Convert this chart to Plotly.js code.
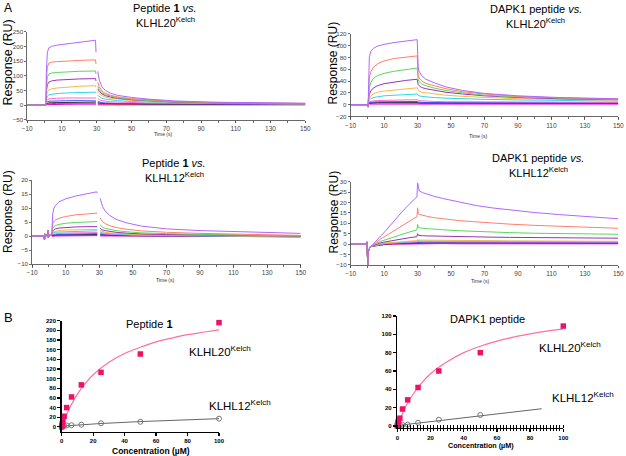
<!DOCTYPE html>
<html>
<head>
<meta charset="utf-8">
<script src="https://cdn.plot.ly/plotly-3.0.1.min.js"></script>
<style>
  html, body { margin: 0; padding: 0; background: #fff; }
  #chart { width: 626px; height: 456px; }
</style>
</head>
<body>
<div id="chart"></div>
<script>
// Injection series (µM), highest first; one sensorgram trace per concentration
const concSeries = [100, 50, 25, 12.5, 6.25, 3.125, 1.56, 0.78, 0.39, 0.195, 0];
const seriesColors = ['#b266ff', '#ff7f6b', '#5cd65c', '#9933b3', '#f2b84b', '#33d6e0',
                      '#ff66e0', '#3d4dff', '#333333', '#ff3333', '#e600e6'];

// ---- Peptide 1 vs. KLHL20 Kelch: pre-injection, association, dissociation ----
const k1PreT = [-10, 0.9];
const k1PreY = [0, 0];
const k1AssocT = [1.0, 1.6, 2.5, 4, 7, 12, 20, 29.3, 29.6];
const k1Assoc = [
  [110, 180, 195, 200, 204, 208, 214, 221, 180],
  [80, 130, 143, 146, 148, 150, 152, 154, 140],
  [58, 95, 106, 109, 111, 113, 115, 116, 106],
  [45, 70, 78, 82, 85, 87, 89, 90, 82],
  [30, 45, 51, 55, 58, 61, 64, 66, 60],
  [20, 30, 35, 37, 39, 41, 43, 44, 40],
  [12, 18, 21, 22, 23, 24, 25, 26, 24],
  [7, 11, 13, 13.5, 14, 14.5, 15, 15.5, 14],
  [4, 6, 7.5, 8, 8.5, 9, 9.5, 10, 9],
  [2, 3.5, 4.5, 5, 5.5, 6, 6, 6.5, 6],
  [1, 1.5, 2, 2, 2.5, 2.5, 3, 3, 3]
];
const k1DissT = [30.6, 31.5, 33, 35, 38, 42, 50, 60, 75, 95, 120, 150];
const k1Diss = [
  [115, 85, 62, 50, 40, 33, 26, 20, 14, 10, 8, 6],
  [78, 62, 48, 40, 33, 28, 22, 17, 12, 9, 7, 5.5],
  [64, 53, 42, 36, 30, 25, 20, 15, 11, 8, 6.5, 5],
  [55, 46, 38, 32, 27, 23, 18, 14, 10, 7.5, 6, 4.5],
  [45, 38, 32, 27, 23, 20, 16, 12, 9, 7, 5.5, 4],
  [33, 28, 23, 20, 17, 15, 12, 10, 8, 6, 5, 4],
  [22, 18, 15, 13, 11, 10, 8, 7, 6, 5, 4, 3],
  [12, 10, 8, 7, 6, 5.5, 5, 4.5, 4, 3.5, 3, 3],
  [8, 6.5, 5.5, 5, 4.5, 4, 4, 3.5, 3, 3, 2.5, 2.5],
  [5, 4, 3.5, 3, 3, 3, 2.5, 2.5, 2, 2, 2, 2],
  [1, 0.5, 0.5, 0.5, 0.5, 0.5, 0.5, 0.5, 0.5, 0.5, 0.5, 0.5]
];

// ---- DAPK1 peptide vs. KLHL20 Kelch ----
const k2PreT = [-10, 0.3, 0.45];
const k2PreY = [0, 0, -4];
const k2AssocT = [0.6, 1.2, 2, 3.5, 6, 10, 16, 23, 29.8];
const k2Assoc = [
  [30, 80, 90, 95, 99, 102, 105, 107.5, 110],
  [18, 45, 55, 63, 69, 74, 78, 80.5, 82.5],
  [12, 28, 37, 44, 49, 53, 56.5, 59.5, 62],
  [8, 17, 23, 28, 32, 35.5, 38.5, 41, 43],
  [5, 10, 14, 18, 21, 23, 25, 27, 28.5],
  [4, 8, 10, 12, 13.5, 15, 16, 17, 18],
  [3, 5, 6, 6.5, 7, 7.5, 7.8, 8, 8.3],
  [2, 3.5, 4, 4.5, 4.8, 5, 5, 5.2, 5.3],
  [1.5, 2.5, 3, 3.3, 3.5, 3.7, 3.8, 4, 4],
  [1, 2, 2.3, 2.5, 2.7, 2.8, 3, 3, 3],
  [0.5, 1, 1, 1, 1, 1.2, 1.2, 1.3, 1.3]
];
const k2DissT = [30.4, 31, 32.5, 35, 40, 47, 57, 70, 90, 115, 150];
const k2Diss = [
  [63, 56, 49, 43, 37, 30, 24, 19, 15, 12, 10],
  [50, 45, 40, 36, 32, 27, 22, 18, 14, 11.5, 9.5],
  [42, 39, 35, 32, 28, 24, 20, 16, 13, 11, 9],
  [34, 32, 29, 27, 24, 21, 18, 15, 12, 10, 8.5],
  [25, 23, 21, 20, 18, 16, 14, 12, 10, 9, 7.5],
  [16, 15, 14, 13, 12, 11, 10, 9, 8, 7, 6],
  [7.5, 7, 6.5, 6, 5.5, 5, 5, 4.5, 4.5, 4, 4],
  [4.5, 4, 4, 3.5, 3.5, 3.5, 3, 3, 3, 3, 3],
  [3.5, 3, 3, 3, 3, 3, 2.5, 2.5, 2.5, 2.5, 2.5],
  [2.5, 2, 2, 2, 2, 2, 2, 2, 2, 2, 2],
  [1, 1, 1, 1, 1, 1, 1, 1, 1, 1, 1]
];

// ---- Peptide 1 vs. KLHL12 Kelch ----
const k3PreT = [-10, -3, -2.6, -2.3, -1, -0.6, -0.3, 0.5, 1.7];
const k3PreY = [0, 0, -1.3, 0.8, 0, 2.2, -0.5, 0.4, 0.4];
const k3AssocT = [1.8, 2.3, 3, 4, 6, 10, 16, 22, 28.5, 28.8];
const k3Assoc = [
  [4.5, 8, 10, 11, 12.2, 13.3, 14.3, 15, 15.8, 15.3],
  [2.5, 4.5, 5.3, 5.8, 6.4, 7, 7.6, 8, 8.4, 8.2],
  [1.5, 2.8, 3.4, 3.8, 4.2, 4.6, 4.9, 5.1, 5.3, 5.2],
  [1, 1.8, 2.3, 2.6, 2.9, 3.1, 3.3, 3.4, 3.5, 3.4],
  [0.8, 1.3, 1.6, 1.8, 2, 2.2, 2.3, 2.4, 2.5, 2.4],
  [0.6, 1, 1.2, 1.4, 1.5, 1.6, 1.7, 1.8, 1.9, 1.8],
  [0.4, 0.7, 0.8, 0.9, 1, 1.1, 1.2, 1.3, 1.3, 1.3],
  [0.3, 0.5, 0.6, 0.6, 0.7, 0.7, 0.8, 0.8, 0.9, 0.9],
  [0.2, 0.3, 0.4, 0.4, 0.5, 0.5, 0.5, 0.6, 0.6, 0.6],
  [0.1, 0.2, 0.2, 0.3, 0.3, 0.3, 0.3, 0.4, 0.4, 0.4],
  [0, 0, 0.1, 0.1, 0.1, 0.1, 0.1, 0.2, 0.2, 0.2]
];
const k3DissT = [30.5, 31.2, 32, 33.5, 36, 40, 46, 55, 70, 90, 115, 150];
const k3Diss = [
  [13.5, 12, 10.5, 9, 7.5, 6, 4.8, 3.6, 2.6, 2, 1.5, 1],
  [6.5, 5.8, 5.2, 4.5, 3.8, 3.1, 2.5, 1.9, 1.4, 1, 0.7, 0.3],
  [4, 3.6, 3.2, 2.8, 2.4, 2, 1.6, 1.2, 0.9, 0.6, 0.4, 0.1],
  [2.8, 2.5, 2.2, 2, 1.7, 1.4, 1.1, 0.8, 0.6, 0.4, 0.2, 0],
  [2, 1.8, 1.6, 1.4, 1.2, 1, 0.8, 0.6, 0.4, 0.3, 0.1, -0.1],
  [1.5, 1.3, 1.2, 1, 0.9, 0.7, 0.6, 0.4, 0.3, 0.2, 0, -0.2],
  [1.1, 1, 0.9, 0.8, 0.7, 0.6, 0.5, 0.3, 0.2, 0.1, 0, -0.2],
  [0.8, 0.7, 0.6, 0.6, 0.5, 0.4, 0.3, 0.2, 0.1, 0.1, 0, -0.1],
  [0.5, 0.5, 0.4, 0.4, 0.3, 0.3, 0.2, 0.2, 0.1, 0, 0, -0.1],
  [0.4, 0.3, 0.3, 0.3, 0.2, 0.2, 0.2, 0.1, 0.1, 0, -0.1, -0.3],
  [0.1, 0.1, 0.1, 0.1, 0.1, 0, 0, 0, 0, 0, 0, 0]
];

// ---- DAPK1 peptide vs. KLHL12 Kelch ----
const k4PreT = [-10, -0.6, -0.3, 0.2, 0.5, 1.0];
const k4PreY = [0, 0, 1, -10, -4, -2];
const k4AssocT = [1.5, 3, 5.5, 8, 10.5, 15.5, 20.5, 25.5, 29.6, 30];
const k4Assoc = [
  [-1.5, -0.5, 1.9, 4, 6, 10.8, 15.4, 19.6, 22.8, 29.5],
  [-1.5, -0.7, 1.1, 2.5, 3.7, 6.2, 8.7, 11, 13.2, 17.5],
  [-1.5, -0.8, 0.5, 1.3, 2, 3.4, 4.7, 5.9, 6.8, 9.5],
  [-1.5, -0.9, 0, 0.6, 1, 1.8, 2.5, 3.1, 3.5, 5],
  [-1.5, -1, -0.3, 0.2, 0.5, 0.9, 1.2, 1.4, 1.6, 2.2],
  [-1.5, -1, -0.4, 0, 0.3, 0.6, 0.9, 1.1, 1.3, 1.8],
  [-1.5, -1, -0.5, -0.1, 0.2, 0.5, 0.7, 0.9, 1, 1.4],
  [-1.5, -1, -0.5, -0.2, 0.1, 0.3, 0.5, 0.6, 0.7, 1],
  [-1.5, -1, -0.6, -0.3, 0, 0.2, 0.3, 0.4, 0.5, 0.7],
  [-1.5, -1.1, -0.7, -0.4, -0.1, 0.1, 0.2, 0.3, 0.3, 0.5],
  [-1.5, -1.1, -0.8, -0.5, -0.3, -0.1, 0, 0.1, 0.1, 0.2]
];
const k4DissT = [30.5, 31, 33, 36, 40, 45, 55, 65, 75, 85, 100, 115, 130, 150];
const k4Diss = [
  [26, 25.6, 24.8, 24, 23, 22, 20.2, 18.6, 17.4, 16.4, 15.2, 14.2, 13.3, 12.2],
  [14.5, 14.3, 13.8, 13.3, 12.7, 12.2, 11.3, 10.7, 10.1, 9.6, 9, 8.5, 8.1, 7.6],
  [7.9, 7.8, 7.6, 7.4, 7.1, 6.9, 6.4, 6, 5.7, 5.5, 5.2, 5, 4.8, 4.7],
  [4.2, 4.1, 4, 3.9, 3.8, 3.7, 3.5, 3.4, 3.3, 3.2, 3.1, 3, 2.9, 2.8],
  [1.9, 1.9, 1.8, 1.8, 1.8, 1.7, 1.7, 1.6, 1.6, 1.5, 1.5, 1.4, 1.4, 1.3],
  [1.5, 1.5, 1.4, 1.4, 1.4, 1.3, 1.3, 1.3, 1.2, 1.2, 1.2, 1.1, 1.1, 1.1],
  [1.2, 1.2, 1.1, 1.1, 1.1, 1.1, 1, 1, 1, 1, 0.9, 0.9, 0.9, 0.9],
  [0.9, 0.9, 0.9, 0.9, 0.8, 0.8, 0.8, 0.8, 0.8, 0.7, 0.7, 0.7, 0.7, 0.7],
  [0.6, 0.6, 0.6, 0.6, 0.6, 0.6, 0.6, 0.5, 0.5, 0.5, 0.5, 0.5, 0.5, 0.5],
  [0.4, 0.4, 0.4, 0.4, 0.4, 0.4, 0.4, 0.3, 0.3, 0.3, 0.3, 0.3, 0.3, 0.3],
  [0.2, 0.2, 0.2, 0.2, 0.2, 0.2, 0.1, 0.1, 0.1, 0.1, 0.1, 0.1, 0.1, 0.1]
];

// ---- Steady-state binding (B) ----
const concUM = [0, 0.195, 0.39, 0.78, 1.56, 3.125, 6.25, 12.5, 25, 50, 100];
const pep1K20 = [0, 3, 7, 12, 22, 40, 62, 87, 113, 151, 216];
const pep1K12 = [0, 0.5, 1, 1.5, 2, 3, 3.5, 4.5, 7.5, 10.5, 17];
const pep1K20FitX = [0, 1, 2.5, 5, 10, 15, 20, 30, 40, 50, 60, 70, 80, 90, 100];
const pep1K20FitY = [0, 9, 21, 39, 68, 90, 108, 134, 152, 165, 176, 184, 191, 196, 201];
const pep1K12FitX = [0, 10, 25, 50, 75, 100];
const pep1K12FitY = [1.5, 4, 7, 11, 14.3, 17];

const dapkK20 = [0, 2, 4, 6, 8.5, 18.5, 28.5, 42, 60, 80, 109];
const dapkK12 = [0, 0.3, 0.5, 0.8, 1, 1.2, 1.5, 3.5, 6.8, 12];
const dapkK20FitX = [0, 1, 2.5, 5, 10, 15, 20, 30, 40, 50, 60, 70, 80, 90, 100];
const dapkK20FitY = [0, 4.7, 11, 21, 36, 47.5, 57, 70, 80, 87, 92.5, 97, 100.5, 103.5, 106];
const dapkK12FitX = [0, 87];
const dapkK12FitY = [0.5, 18.8];

// ---- layout helpers: pixel positions -> paper fractions ----
const W = 626, H = 456;
const FONT = 'Liberation Sans, Arial, sans-serif';
const px = v => v / W;
const py = v => 1 - v / H;
const xDom = (a, b) => [px(a), px(b)];
const yDom = (top, bottom) => [py(bottom), py(top)];

function sensorgram(preT, preY, assocT, assoc, dissT, diss, gap, xa, ya) {
  const out = [];
  for (let i = assoc.length - 1; i >= 0; i--) {
    const x = preT.concat(assocT, gap ? [30] : [], dissT);
    const y = preY.concat(assoc[i], gap ? [null] : [], diss[i]);
    out.push({
      type: 'scatter', mode: 'lines', x: x, y: y, xaxis: xa, yaxis: ya,
      name: concSeries[i] + ' µM', connectgaps: false,
      line: { color: seriesColors[i], width: 1 }, hoverinfo: 'skip'
    });
  }
  return out;
}

const traces = [].concat(
  sensorgram(k1PreT, k1PreY, k1AssocT, k1Assoc, k1DissT, k1Diss, true, 'x', 'y'),
  sensorgram(k2PreT, k2PreY, k2AssocT, k2Assoc, k2DissT, k2Diss, false, 'x2', 'y2'),
  sensorgram(k3PreT, k3PreY, k3AssocT, k3Assoc, k3DissT, k3Diss, true, 'x3', 'y3'),
  sensorgram(k4PreT, k4PreY, k4AssocT, k4Assoc, k4DissT, k4Diss, false, 'x4', 'y4')
);

const pink = '#ee1166', pinkFit = '#ff6fa3', grey = '#777777';
function steady(xa, ya, k20, k12, f20x, f20y, f12x, f12y) {
  return [
    { type: 'scatter', mode: 'lines', x: f12x, y: f12y, xaxis: xa, yaxis: ya,
      line: { color: '#666', width: 1 }, hoverinfo: 'skip' },
    { type: 'scatter', mode: 'markers', x: concUM.slice(0, k12.length), y: k12, xaxis: xa, yaxis: ya,
      marker: { symbol: 'circle-open', size: 5, color: grey, line: { width: 1, color: grey } },
      cliponaxis: false, hoverinfo: 'skip' },
    { type: 'scatter', mode: 'lines', x: f20x, y: f20y, xaxis: xa, yaxis: ya,
      line: { color: pinkFit, width: 1.2, shape: 'spline' }, hoverinfo: 'skip' },
    { type: 'scatter', mode: 'markers', x: concUM, y: k20, xaxis: xa, yaxis: ya,
      marker: { symbol: 'square', size: 5.5, color: pink }, cliponaxis: false, hoverinfo: 'skip' }
  ];
}
traces.push(...steady('x5', 'y5', pep1K20, pep1K12, pep1K20FitX, pep1K20FitY, pep1K12FitX, pep1K12FitY));
traces.push(...steady('x6', 'y6', dapkK20, dapkK12, dapkK20FitX, dapkK20FitY, dapkK12FitX, dapkK12FitY));
// carrier for the outward half of the hatched concentration axis
traces.push({ type: 'scatter', mode: 'lines', x: [], y: [], xaxis: 'x7', yaxis: 'y6', hoverinfo: 'skip' });

const timeTicks = [-10, 10, 30, 50, 70, 90, 110, 130, 150];
function timeAxis(dom, anchor) {
  return {
    domain: dom, anchor: anchor, range: [-10, 150], tickvals: timeTicks,
    ticks: 'outside', ticklen: 2.5, tickwidth: 0.8, tickcolor: '#444',
    minor: { dtick: 10, tick0: 0, ticks: 'outside', ticklen: 2, tickcolor: '#444', tickwidth: 0.8 },
    showline: true, linecolor: '#444', linewidth: 0.8, showgrid: false, zeroline: false,
    tickfont: { family: FONT, size: 6.5, color: '#444' }, fixedrange: true
  };
}
function respAxis(dom, anchor, range, dtick) {
  return {
    domain: dom, anchor: anchor, range: range, dtick: dtick, tick0: 0,
    ticks: 'outside', ticklen: 2, tickwidth: 0.8, tickcolor: '#444',
    showline: true, linecolor: '#444', linewidth: 0.8, showgrid: false, zeroline: false,
    tickfont: { family: FONT, size: 6.2, color: '#444' }, fixedrange: true
  };
}
function concAxis(dom, anchor) {
  return {
    domain: dom, anchor: anchor, range: [0, 100], dtick: 20, tick0: 0,
    ticks: 'outside', ticklen: 3, tickwidth: 1.2, tickcolor: '#000',
    showline: true, linecolor: '#000', linewidth: 1.5, showgrid: false, zeroline: false,
    tickfont: { family: FONT, size: 6, color: '#000', weight: 'bold' }, fixedrange: true
  };
}
function bindAxis(dom, anchor, range, dtick) {
  return {
    domain: dom, anchor: anchor, range: range, dtick: dtick, tick0: 0,
    ticks: 'outside', ticklen: 3, tickwidth: 1.2, tickcolor: '#000',
    showline: true, linecolor: '#000', linewidth: 1.5, showgrid: false, zeroline: false,
    tickfont: { family: FONT, size: 6, color: '#000', weight: 'bold' }, fixedrange: true
  };
}

const x6 = concAxis(xDom(397.3, 563.3), 'y6');
x6.minor = { dtick: 2, tick0: 0, ticks: 'inside', ticklen: 2.5, tickwidth: 1, tickcolor: '#000' };

const layout = {
  width: W, height: H, autosize: false,
  margin: { l: 0, r: 0, t: 0, b: 0 },
  paper_bgcolor: '#fff', plot_bgcolor: 'rgba(0,0,0,0)',
  showlegend: false,
  font: { family: FONT, color: '#000' },
  xaxis: timeAxis(xDom(27.2, 305.3), 'y'),
  yaxis: respAxis(yDom(31.7, 119.7), 'x', [-50, 250], 50),
  xaxis2: timeAxis(xDom(350.6, 618.3), 'y2'),
  yaxis2: respAxis(yDom(33.7, 116.5), 'x2', [-20, 120], 20),
  xaxis3: timeAxis(xDom(32.1, 300.7), 'y3'),
  yaxis3: respAxis(yDom(180, 264.3), 'x3', [-10, 20], 5),
  xaxis4: timeAxis(xDom(350.7, 618.3), 'y4'),
  yaxis4: respAxis(yDom(181.9, 264.7), 'x4', [-10, 30], 5),
  xaxis5: concAxis(xDom(61.7, 219), 'y5'),
  yaxis5: bindAxis(yDom(320.7, 431.7), 'x5', [-10, 220], 20),
  xaxis6: x6,
  yaxis6: bindAxis(yDom(316, 427.8), 'x6', [-2, 120], 20),
  xaxis7: {
    overlaying: 'x6', anchor: 'y6', range: [0, 100], showline: false, showticklabels: false,
    ticks: '', showgrid: false, zeroline: false, fixedrange: true,
    minor: { dtick: 2, tick0: 0, ticks: 'outside', ticklen: 2.5, tickwidth: 1, tickcolor: '#000' }
  },
  annotations: []
};

function label(text, x, y, size, extra) {
  layout.annotations.push(Object.assign({
    text: text, x: px(x), y: py(y), xref: 'paper', yref: 'paper',
    xanchor: 'center', yanchor: 'middle', showarrow: false,
    font: { family: FONT, size: size, color: '#000' }
  }, extra || {}));
}

// panel letters
label('A', 7.5, 8, 12);
label('B', 8.5, 317, 13);

// sensorgram titles
label('Peptide <b>1</b> <i>vs.</i>', 165, 8, 11);
label('KLHL20<sup>Kelch</sup>', 165, 22, 11);
label('DAPK1 peptide <i>vs.</i>', 535.5, 9, 11);
label('KLHL20<sup>Kelch</sup>', 535.5, 23, 11);
label('Peptide <b>1</b> <i>vs.</i>', 174.3, 163, 11);
label('KLHL12<sup>Kelch</sup>', 174, 177, 11);
label('DAPK1 peptide <i>vs.</i>', 537.5, 158, 11);
label('KLHL12<sup>Kelch</sup>', 538, 172, 11);

// sensorgram axis titles
label('Response (RU)', 7.5, 63, 12.5, { textangle: -90 });
label('Response (RU)', 332.5, 63, 12, { textangle: -90 });
label('Response (RU)', 8, 212, 12, { textangle: -90 });
label('Response (RU)', 333.5, 212, 12, { textangle: -90 });
[[163, 134], [478, 135.5], [165, 280], [480, 280.5]].forEach(p =>
  label('Time (s)', p[0], p[1], 5, { font: { family: FONT, size: 5, color: '#333' } }));

// steady-state annotations
label('Peptide <b>1</b>', 149, 323.5, 11);
label('KLHL20<sup>Kelch</sup>', 220.3, 351, 11.5);
label('KLHL12<sup>Kelch</sup>', 240, 404.5, 11.5);
label('DAPK1 peptide', 487.5, 319, 11);
label('KLHL20<sup>Kelch</sup>', 570, 347, 11.5);
label('KLHL12<sup>Kelch</sup>', 582.5, 396.5, 11.5);
label('Concentration (µM)', 151, 450.7, 8.5, { font: { family: FONT, size: 8.5, color: '#000', weight: 'bold' } });
label('Concentration (µM)', 481, 445.7, 7.2, { font: { family: FONT, size: 7.2, color: '#000', weight: 'bold' } });

Plotly.newPlot('chart', traces, layout, { staticPlot: true, displayModeBar: false });
</script>
</body>
</html>
